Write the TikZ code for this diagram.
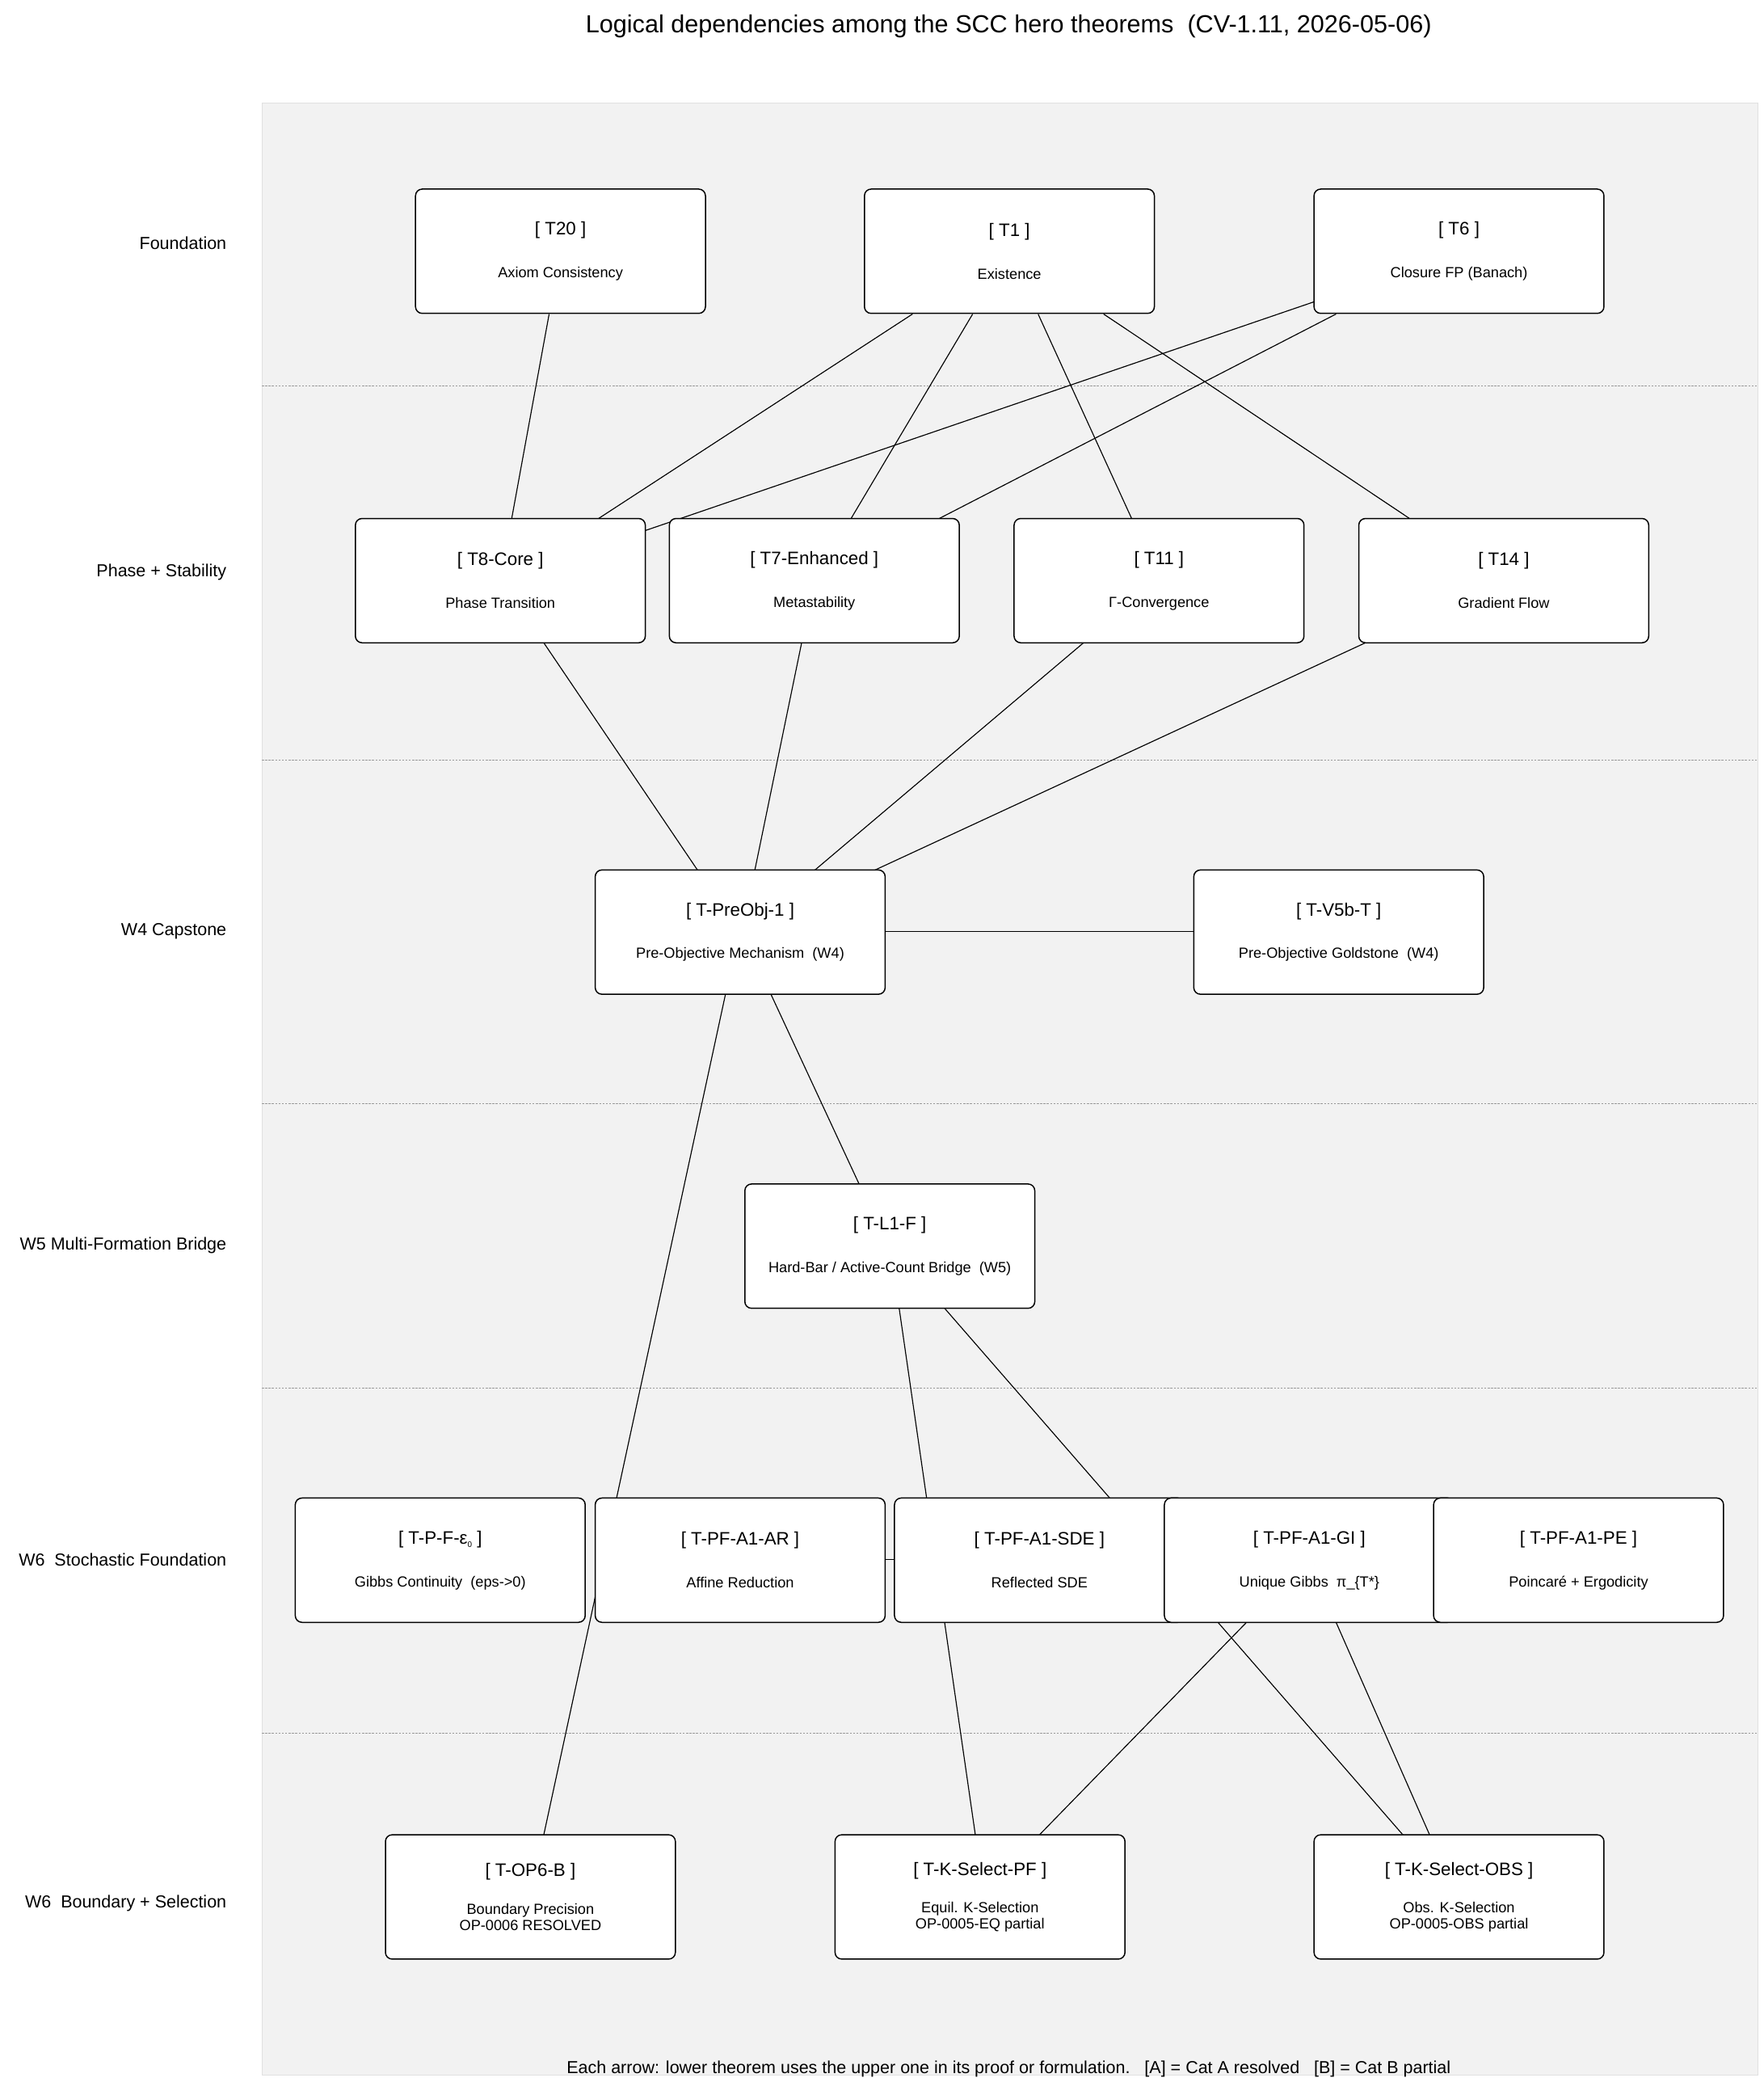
\documentclass[tikz,border=0pt]{standalone}
\usepackage{fontspec}
\setmainfont{Liberation Sans}
\begin{document}
\begin{tikzpicture}[x=1pt,y=-1pt,
  box/.style={draw=black,fill=white,rounded corners=5pt,line width=0.9pt,minimum width=217pt,minimum height=93pt,align=center,inner sep=0pt},
  edge/.style={draw=black,line width=0.7pt},
  sep/.style={draw=gray!80,dashed,dash pattern=on 1.5pt off 1pt,line width=0.6pt},
  lab/.style={anchor=east,font=\fontsize{13}{15}\selectfont}]
\useasboundingbox (0,0) rectangle (1320,1558);
\fill[fill=black!5,draw=black!12,line width=0.6pt] (196,77) rectangle (1316,1553);
\node[font=\fontsize{18.5}{21}\selectfont] (title) at (755,20) {Logical dependencies among the SCC hero theorems\ \ (CV-1.11, 2026-05-06)};
\foreach \y in {289,569,826,1039,1297} \draw[sep] (196,\y) -- (1316,\y);
\node[lab] (l1) at (173,182) {Foundation};
\node[lab] (l2) at (173,428) {Phase + Stability};
\node[lab] (l3) at (173,697) {W4 Capstone};
\node[lab] (l4) at (173,932) {W5 Multi-Formation Bridge};
\node[lab] (l5) at (173,1167) {W6\ \ Stochastic Foundation};
\node[lab] (l6) at (173,1424) {W6\ \ Boundary + Selection};
\newcommand{\bx}[5]{\node[box] (#1) at (#2,#3) {\fontsize{13.5}{16}\selectfont #4\\[20pt]\fontsize{11}{13}\selectfont #5};}
\begin{scope}[every path/.style={edge}]
\coordinate (a1) at (411,235); \coordinate (b1) at (383,388); \draw (a1) -- (b1);
\coordinate (a2) at (683,235); \coordinate (b2) at (448,388); \draw (a2) -- (b2);
\coordinate (a3) at (728,235); \coordinate (b3) at (637,388); \draw (a3) -- (b3);
\coordinate (a4) at (777,235); \coordinate (b4) at (847,388); \draw (a4) -- (b4);
\coordinate (a5) at (826,235); \coordinate (b5) at (1055,388); \draw (a5) -- (b5);
\coordinate (a6) at (986,225); \coordinate (b6) at (483,397); \draw (a6) -- (b6);
\coordinate (a7) at (1000,235); \coordinate (b7) at (703,388); \draw (a7) -- (b7);
\coordinate (a8) at (407,481); \coordinate (b8) at (522,651); \draw (a8) -- (b8);
\coordinate (a9) at (600,481); \coordinate (b9) at (565,651); \draw (a9) -- (b9);
\coordinate (a10) at (811,481); \coordinate (b10) at (610,651); \draw (a10) -- (b10);
\coordinate (a11) at (1022,481); \coordinate (b11) at (655,651); \draw (a11) -- (b11);
\coordinate (a12) at (662,697); \coordinate (b12) at (894,697); \draw (a12) -- (b12);
\coordinate (a13) at (543,744); \coordinate (b13) at (407,1373); \draw (a13) -- (b13);
\coordinate (a14) at (577,744); \coordinate (b14) at (643,886); \draw (a14) -- (b14);
\coordinate (a15) at (673,979); \coordinate (b15) at (730,1373); \draw (a15) -- (b15);
\coordinate (a16) at (707,979); \coordinate (b16) at (1050,1373); \draw (a16) -- (b16);
\coordinate (a17) at (933,1214); \coordinate (b17) at (778,1373); \draw (a17) -- (b17);
\coordinate (a18) at (1000,1214); \coordinate (b18) at (1070,1373); \draw (a18) -- (b18);
\coordinate (a19) at (662,1167); \coordinate (b19) at (670,1167); \draw (a19) -- (b19);
\end{scope}
\bx{T20}{419.5}{188}{[ T20 ]}{Axiom Consistency}
\bx{T1}{755.5}{188}{[ T1 ]}{Existence}
\bx{T6}{1092}{188}{[ T6 ]}{Closure FP (Banach)}
\bx{T8}{374.5}{434.5}{[ T8-Core ]}{Phase Transition}
\bx{T7}{609.5}{434.5}{[ T7-Enhanced ]}{Metastability}
\bx{T11}{867.5}{434.5}{[ T11 ]}{Γ-Convergence}
\bx{T14}{1125.5}{434.5}{[ T14 ]}{Gradient Flow}
\bx{PO}{554}{697.5}{[ T-PreObj-1 ]}{Pre-Objective Mechanism\ \ (W4)}
\bx{V5}{1002}{697.5}{[ T-V5b-T ]}{Pre-Objective Goldstone\ \ (W4)}
\bx{L1F}{666}{932.5}{[ T-L1-F ]}{Hard-Bar / Active-Count Bridge\ \ (W5)}
\bx{PFE}{329.5}{1167.5}{[ T-P-F-ε\raisebox{-0.35ex}{\fontsize{6}{7}\selectfont 0} ]}{Gibbs Continuity\ \ (eps->0)}
\bx{AR}{554}{1167.5}{[ T-PF-A1-AR ]}{Affine Reduction}
\bx{SDE}{778}{1167.5}{[ T-PF-A1-SDE ]}{Reflected SDE}
\bx{GI}{980}{1167.5}{[ T-PF-A1-GI ]}{Unique Gibbs\ \ π\_\{T*\}}
\bx{PE}{1181.5}{1167.5}{[ T-PF-A1-PE ]}{Poincaré + Ergodicity}
\node[box] (OP6) at (397,1419.5) {\fontsize{13.5}{16}\selectfont [ T-OP6-B ]\\[16pt]\fontsize{11}{13}\selectfont Boundary Precision\\\fontsize{11}{13}\selectfont OP-0006 RESOLVED};
\node[box] (KPF) at (733.5,1419.5) {\fontsize{13.5}{16}\selectfont [ T-K-Select-PF ]\\[16pt]\fontsize{11}{13}\selectfont Equil. K-Selection\\\fontsize{11}{13}\selectfont OP-0005-EQ partial};
\node[box] (KOBS) at (1092,1419.5) {\fontsize{13.5}{16}\selectfont [ T-K-Select-OBS ]\\[16pt]\fontsize{11}{13}\selectfont Obs. K-Selection\\\fontsize{11}{13}\selectfont OP-0005-OBS partial};
\node[font=\fontsize{13}{15}\selectfont] (foot) at (755,1548) {Each arrow: lower theorem uses the upper one in its proof or formulation.\ \ \ [A] = Cat A resolved\ \ \ [B] = Cat B partial};
\end{tikzpicture}
\end{document}
